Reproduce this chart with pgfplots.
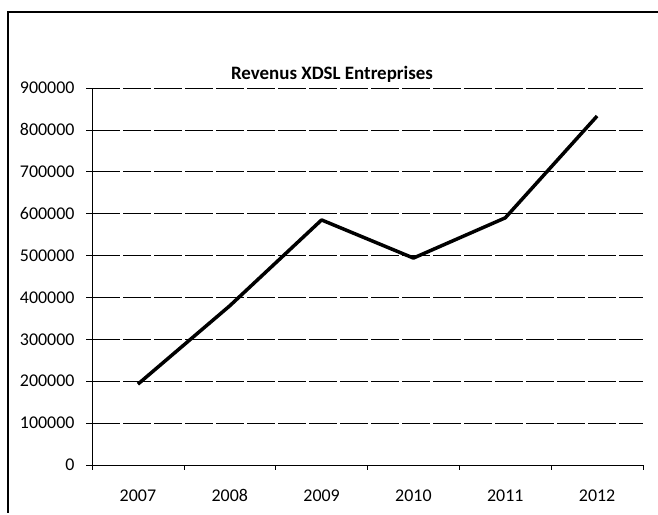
\documentclass[border=0pt]{standalone}
\usepackage{fontspec}
\setmainfont{Carlito}
\usepackage{pgfplots}
\pgfplotsset{compat=1.18}

\begin{document}
\begin{tikzpicture}[x=1bp,y=1bp]
\path[use as bounding box] (0,0) rectangle (658,515);
% scanned page frame (top and left edges only)
\draw[line width=1.2bp] (8,2) -- (8,503) -- (658,503);
\node[font=\fontsize{19}{22}\selectfont\bfseries] at (332,441) {Revenus XDSL Entreprises};
\begin{axis}[
    at={(92bp,50bp)}, anchor=south west,
    scale only axis,
    width=551bp, height=377bp,
    xmin=-0.5, xmax=5.5,
    ymin=0, ymax=900000,
    ytick={0,100000,...,900000},
    xtick={0,...,5},
    xticklabels={2007,2008,2009,2010,2011,2012},
    minor xtick={-0.5,0.5,...,5.5},
    major x tick style={draw=none},
    tick align=outside,
    major tick length=6bp, minor tick length=5bp,
    axis y line*=left, axis x line*=bottom,
    axis line style={black, line width=0.6bp},
    tick style={black, line width=0.6bp},
    ymajorgrids,
    grid style={black, line width=0.7bp, dash pattern=on 28bp off 3bp},
    scaled y ticks=false,
    /pgf/number format/assume math mode=true,
    yticklabel style={/pgf/number format/fixed, /pgf/number format/1000 sep={}, xshift=-8bp},
    xticklabel style={yshift=-15bp},
    tick label style={font=\fontsize{18}{20}\selectfont},
]
\addplot[black, line width=3.5bp, line join=round] coordinates {
    (0,193000) (1,380000) (2,585000) (3,494000) (4,590000) (5,833000)
};
\end{axis}
\end{tikzpicture}
\end{document}
